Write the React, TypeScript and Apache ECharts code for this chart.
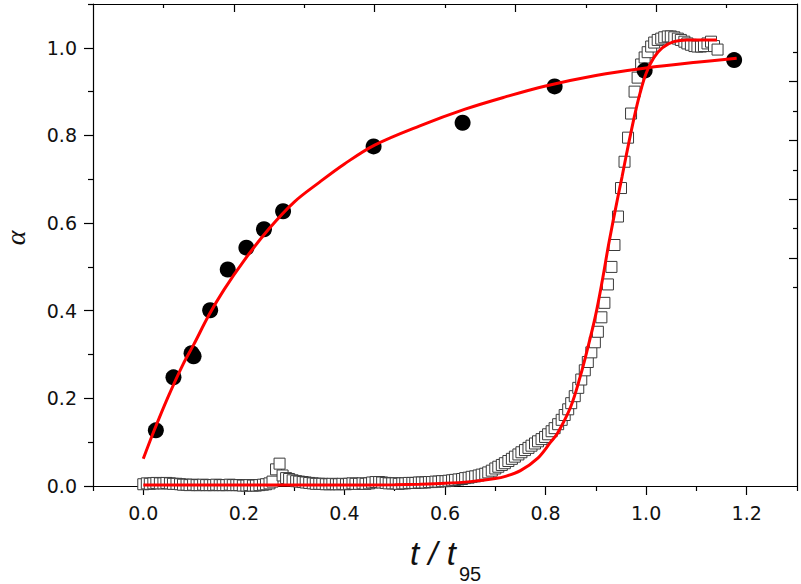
import React, { useEffect, useRef } from "react";
import * as echarts from "echarts";

// ---- tick values ----
const xTickLabels = [0, 0.2, 0.4, 0.6, 0.8, 1.0, 1.2];
const xMinorTicks = [-0.1, 0.1, 0.3, 0.5, 0.7, 0.9, 1.1, 1.3];
const yTickLabels = [0, 0.2, 0.4, 0.6, 0.8, 1.0];
const yMinorTicks = [0.1, 0.3, 0.5, 0.7, 0.9, 1.1];
const topMajorTicks = [2, 4, 6, 8];
const topMinorTicks = [1, 3, 5, 7, 9];
const rightMajorTicks = [1, 3, 5, 7];
const rightMinorTicks = [0, 2, 4, 6, 8];

// ---- filled circles ----
const dotX = [0.025, 0.06, 0.096, 0.1, 0.133, 0.168, 0.205, 0.24, 0.278, 0.458, 0.635, 0.818, 0.997, 1.175];
const dotY = [0.127, 0.248, 0.303, 0.296, 0.401, 0.494, 0.544, 0.586, 0.627, 0.775, 0.829, 0.912, 0.948, 0.972];

// ---- open squares ----
const squareX = [
  0, 0.007, 0.013, 0.02, 0.026, 0.033, 0.04, 0.046, 0.053, 0.059,
  0.066, 0.073, 0.079, 0.086, 0.092, 0.099, 0.106, 0.112, 0.119, 0.125,
  0.132, 0.139, 0.145, 0.152, 0.158, 0.165, 0.172, 0.178, 0.185, 0.191,
  0.198, 0.205, 0.211, 0.218, 0.224, 0.231, 0.238, 0.244, 0.251, 0.257,
  0.264, 0.271, 0.277, 0.284, 0.29, 0.297, 0.304, 0.31, 0.317, 0.323,
  0.33, 0.337, 0.343, 0.35, 0.356, 0.363, 0.37, 0.376, 0.383, 0.389,
  0.396, 0.403, 0.409, 0.416, 0.422, 0.429, 0.436, 0.442, 0.449, 0.455,
  0.462, 0.469, 0.475, 0.482, 0.488, 0.495, 0.502, 0.508, 0.515, 0.521,
  0.528, 0.535, 0.541, 0.548, 0.554, 0.561, 0.568, 0.574, 0.581, 0.587,
  0.594, 0.601, 0.607, 0.614, 0.62, 0.627, 0.634, 0.64, 0.647, 0.653,
  0.66, 0.667, 0.673, 0.68, 0.686, 0.693, 0.7, 0.706, 0.713, 0.719,
  0.726, 0.733, 0.739, 0.746, 0.752, 0.759, 0.766, 0.772, 0.779, 0.785,
  0.792, 0.799, 0.805, 0.812, 0.818, 0.825, 0.832, 0.838, 0.845, 0.851,
  0.858, 0.865, 0.871, 0.878, 0.884, 0.891, 0.898, 0.904, 0.911, 0.917,
  0.924, 0.931, 0.937, 0.944, 0.95, 0.957, 0.964, 0.97, 0.977, 0.983,
  0.99, 0.997, 1.003, 1.01, 1.016, 1.023, 1.03, 1.036, 1.043, 1.049,
  1.056, 1.063, 1.069, 1.076, 1.082, 1.089, 1.096, 1.102, 1.109, 1.115,
  1.122, 1.129, 1.135, 1.142,
];
const squareY = [
  0.004, 0.006, 0.005, 0.006, 0.007, 0.006, 0.006, 0.007, 0.006, 0.005,
  0.005, 0.004, 0.003, 0.003, 0.002, 0.003, 0.002, 0.002, 0.003, 0.002,
  0.002, 0.002, 0.003, 0.002, 0.002, 0.002, 0.003, 0.002, 0.002, 0.002,
  0.001, 0.001, 0.002, 0.001, 0.001, 0.002, 0.003, 0.004, 0.006, 0.01,
  0.038, 0.051, 0.024, 0.018, 0.016, 0.013, 0.011, 0.01, 0.009, 0.008,
  0.007, 0.006, 0.005, 0.005, 0.005, 0.004, 0.004, 0.005, 0.004, 0.004,
  0.005, 0.004, 0.005, 0.006, 0.005, 0.005, 0.006, 0.005, 0.006, 0.008,
  0.009, 0.009, 0.008, 0.007, 0.006, 0.006, 0.006, 0.005, 0.006, 0.006,
  0.007, 0.007, 0.007, 0.008, 0.008, 0.008, 0.009, 0.009, 0.01, 0.01,
  0.011, 0.011, 0.012, 0.013, 0.014, 0.015, 0.016, 0.018, 0.019, 0.021,
  0.022, 0.024, 0.026, 0.028, 0.031, 0.035, 0.04, 0.044, 0.048, 0.052,
  0.057, 0.062, 0.067, 0.072, 0.077, 0.082, 0.087, 0.092, 0.097, 0.102,
  0.107, 0.112, 0.118, 0.125, 0.132, 0.141, 0.151, 0.162, 0.175, 0.189,
  0.205, 0.224, 0.243, 0.264, 0.283, 0.305, 0.328, 0.352, 0.385, 0.418,
  0.46, 0.5, 0.55, 0.615, 0.68, 0.74, 0.795, 0.85, 0.9, 0.932,
  0.962, 0.978, 0.99, 1.003, 1.012, 1.018, 1.021, 1.024, 1.026, 1.026,
  1.024, 1.021, 1.018, 1.014, 1.01, 1.007, 1.004, 1.003, 1.003, 1.004,
  1.01, 1.014, 1.004, 0.996,
];

// ---- red fit curves ----
const fit1X = [0, 0.02, 0.05, 0.08, 0.1, 0.13, 0.16, 0.2, 0.25, 0.3, 0.35, 0.4, 0.46, 0.55, 0.64, 0.72, 0.8, 0.9, 1.0, 1.1, 1.18];
const fit1Y = [0.062, 0.122, 0.205, 0.28, 0.322, 0.389, 0.447, 0.514, 0.587, 0.648, 0.693, 0.735, 0.778, 0.822, 0.86, 0.888, 0.913, 0.937, 0.954, 0.967, 0.976];

const fit2X = [0, 0.1, 0.2, 0.3, 0.4, 0.5, 0.55, 0.6, 0.65, 0.7, 0.72, 0.75, 0.784, 0.81, 0.824, 0.85, 0.869, 0.883, 0.899, 0.913, 0.926, 0.943, 0.952, 0.96, 0.976, 0.988, 1.0, 1.015, 1.032, 1.055, 1.081, 1.141];
const fit2Y = [0.002, 0.002, 0.002, 0.002, 0.002, 0.003, 0.004, 0.006, 0.01, 0.017, 0.022, 0.035, 0.063, 0.1, 0.121, 0.181, 0.25, 0.311, 0.387, 0.47, 0.555, 0.655, 0.705, 0.752, 0.84, 0.897, 0.942, 0.977, 1.0, 1.014, 1.018, 1.018];

const pairs = (xs: number[], ys: number[]) => xs.map((x, i) => [x, ys[i]]);

const AXIS_COLOR = "#000";
const LABEL_FONT = "DejaVu Sans";

function tickAxis(position: string, min: number, max: number, ticks: number[], length: number, inside: boolean, showLine: boolean) {
  return {
    type: "value",
    position,
    min,
    max,
    axisLine: { show: showLine, onZero: false, lineStyle: { color: AXIS_COLOR, width: 1.2 } },
    axisTick: { show: true, inside, length, customValues: ticks, lineStyle: { color: AXIS_COLOR, width: 1.2 } },
    axisLabel: { show: false },
    splitLine: { show: false },
  };
}

export default function App() {
  const ref = useRef<HTMLDivElement>(null);

  useEffect(() => {
    document.body.style.margin = "0";
    if (!ref.current) return;
    const chart = echarts.init(ref.current, undefined, { renderer: "svg" });

    const option: any = {
      animation: false,
      backgroundColor: "#fff",
      grid: { left: 93, right: 4, top: 4, bottom: 98, containLabel: false },
      xAxis: [
        {
          type: "value",
          position: "bottom",
          min: -0.1,
          max: 1.3,
          axisLine: { show: true, onZero: false, lineStyle: { color: AXIS_COLOR, width: 1.2 } },
          axisTick: { show: true, inside: false, length: 9, customValues: xTickLabels, lineStyle: { color: AXIS_COLOR, width: 1.2 } },
          axisLabel: {
            show: true,
            customValues: xTickLabels,
            margin: 17,
            color: "#111",
            fontFamily: LABEL_FONT,
            fontSize: 19,
            formatter: (v: number) => v.toFixed(1),
          },
          splitLine: { show: false },
        },
        tickAxis("bottom", -0.1, 1.3, xMinorTicks, 5, false, false),
        tickAxis("top", 0, 10, topMajorTicks, 8, true, true),
        tickAxis("top", 0, 10, topMinorTicks, 4, true, false),
      ],
      yAxis: [
        {
          type: "value",
          position: "left",
          min: 0,
          max: 1.1,
          axisLine: { show: true, onZero: false, lineStyle: { color: AXIS_COLOR, width: 1.2 } },
          axisTick: { show: true, inside: false, length: 9, customValues: yTickLabels, lineStyle: { color: AXIS_COLOR, width: 1.2 } },
          axisLabel: {
            show: true,
            customValues: yTickLabels,
            margin: 16,
            color: "#111",
            fontFamily: LABEL_FONT,
            fontSize: 19,
            formatter: (v: number) => v.toFixed(1),
          },
          splitLine: { show: false },
        },
        tickAxis("left", 0, 1.1, yMinorTicks, 5, false, false),
        tickAxis("right", -6.76, 9.64, rightMajorTicks, 8, true, true),
        tickAxis("right", -6.76, 9.64, rightMinorTicks, 4, true, false),
      ],
      graphic: [
        {
          type: "text",
          x: 410,
          y: 570,
          style: {
            text: "t / t",
            font: 'italic 33px "Liberation Sans"',
            fill: "#111",
            align: "left",
            verticalAlign: "bottom",
          },
        },
        {
          type: "text",
          x: 459,
          y: 584,
          style: {
            text: "95",
            font: '20px "Liberation Sans"',
            fill: "#111",
            align: "left",
            verticalAlign: "bottom",
          },
        },
        {
          type: "text",
          x: 15,
          y: 238,
          rotation: Math.PI / 2,
          style: {
            text: "α",
            font: 'italic 28px "Liberation Serif"',
            fill: "#111",
            align: "center",
            verticalAlign: "middle",
          },
        },
      ],
      series: [
        {
          name: "squares",
          type: "scatter",
          xAxisIndex: 0,
          yAxisIndex: 0,
          symbol: "rect",
          symbolSize: 11,
          itemStyle: { color: "#fff", borderColor: "#3a3a3a", borderWidth: 1, opacity: 1 },
          data: pairs(squareX, squareY),
        },
        {
          name: "dots",
          type: "scatter",
          xAxisIndex: 0,
          yAxisIndex: 0,
          symbol: "circle",
          symbolSize: 16,
          itemStyle: { color: "#000", opacity: 1 },
          data: pairs(dotX, dotY),
        },
        {
          name: "fit1",
          type: "line",
          xAxisIndex: 0,
          yAxisIndex: 0,
          smooth: 0.35,
          showSymbol: false,
          lineStyle: { color: "#ff0000", width: 3 },
          data: pairs(fit1X, fit1Y),
        },
        {
          name: "fit2",
          type: "line",
          xAxisIndex: 0,
          yAxisIndex: 0,
          smooth: 0.35,
          showSymbol: false,
          lineStyle: { color: "#ff0000", width: 3 },
          data: pairs(fit2X, fit2Y),
        },
      ],
    };

    chart.setOption(option);
    return () => chart.dispose();
  }, []);

  return <div ref={ref} style={{ width: 801, height: 584 }} />;
}
